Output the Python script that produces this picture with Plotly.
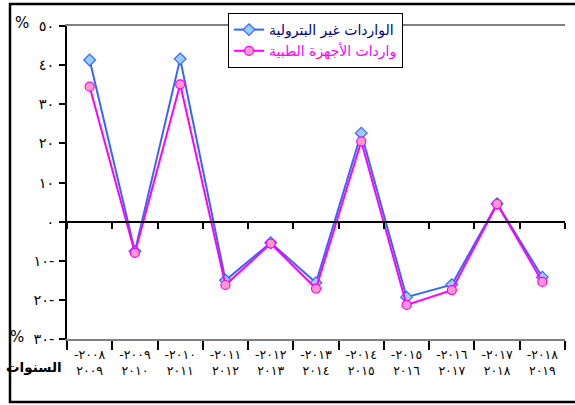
import plotly.graph_objects as go

categories = ["-٢٠٠٨<br>٢٠٠٩", "-٢٠٠٩<br>٢٠١٠", "-٢٠١٠<br>٢٠١١", "-٢٠١١<br>٢٠١٢",
              "-٢٠١٢<br>٢٠١٣", "-٢٠١٣<br>٢٠١٤", "-٢٠١٤<br>٢٠١٥", "-٢٠١٥<br>٢٠١٦",
              "-٢٠١٦<br>٢٠١٧", "-٢٠١٧<br>٢٠١٨", "-٢٠١٨<br>٢٠١٩"]
non_oil = [41.3, -7.6, 41.6, -15.0, -5.4, -15.6, 22.6, -19.3, -16.1, 4.6, -14.2]
medical = [34.5, -8.0, 35.1, -16.2, -5.6, -17.1, 20.5, -21.3, -17.5, 4.5, -15.4]
y_tickvals = [50, 40, 30, 20, 10, 0, -10, -20, -30]
y_ticktext = ["٥٠", "٤٠", "٣٠", "٢٠", "١٠", "٠", "١٠-", "٢٠-", "٣٠-"]
name1 = "الواردات غير البترولية"
name2 = "واردات الأجهزة الطبية"

# pixel layout helpers
W, H = 575, 405
PL, PR = 67, 565          # plot left/right
PT, PB = 26, 339          # plot top/bottom
MT = 13                   # paper top (legend top)
paper_h = PB - MT
dom_top = (PB - PT) / paper_h
pw, ph = PR - PL, PB - PT


def px_x(x):
    return (x - PL) / pw


def px_y(y):
    return (PB - y) / ph


fig = go.Figure()
fig.add_trace(go.Scatter(
    x=categories, y=non_oil, mode="lines+markers",
    name="<span style='color:#000080'>" + name1 + "</span>",
    line=dict(color="#3366FF", width=2),
    marker=dict(symbol="diamond", size=9, color="#99CCFF", line=dict(color="#3366FF", width=1.2)),
))
fig.add_trace(go.Scatter(
    x=categories, y=medical, mode="lines+markers",
    name="<span style='color:#FF00FF'>" + name2 + "</span>",
    line=dict(color="#FF00FF", width=2),
    marker=dict(symbol="circle", size=9, color="#FF99CC", line=dict(color="#FF00FF", width=1.2)),
))
# helper invisible trace for the zero-line axis
fig.add_trace(go.Scatter(x=categories, y=[None] * len(categories), xaxis="x2",
                         showlegend=False, hoverinfo="skip", mode="lines"))

fig.update_layout(
    width=W, height=H,
    margin=dict(l=PL, r=W - PR, t=MT, b=H - PB, autoexpand=False),
    paper_bgcolor="white", plot_bgcolor="white",
    font=dict(family="DejaVu Sans, Arial", color="black"),
    showlegend=True,
    legend=dict(
        x=px_x(228), y=1.0, xanchor="left", yanchor="top",
        bgcolor="white", bordercolor="black", borderwidth=1,
        font=dict(size=14, family="DejaVu Sans"),
        tracegroupgap=0, itemwidth=30,
    ),
    xaxis=dict(
        type="category", range=[-0.5, 10.5],
        showline=True, linecolor="#808080", linewidth=1.5, mirror=True,
        ticks="outside", tickson="boundaries", ticklen=9, tickcolor="black", tickwidth=1.5,
        showgrid=False, zeroline=False, ticklabelstandoff=3,
        tickfont=dict(size=12.5, family="DejaVu Sans"),
    ),
    xaxis2=dict(
        type="category", range=[-0.5, 10.5], overlaying="x", anchor="free",
        position=(30 / 80) * dom_top,
        showline=True, linecolor="black", linewidth=2,
        ticks="outside", tickson="boundaries", ticklen=6, tickcolor="black", tickwidth=1.5,
        showticklabels=False, showgrid=False, zeroline=False,
    ),
    yaxis=dict(
        domain=[0, dom_top],
        range=[-30, 50], tickvals=y_tickvals, ticktext=y_ticktext,
        showline=True, linecolor="black", linewidth=1.5,
        ticks="outside", ticklen=6, tickcolor="black", tickwidth=1.5,
        showgrid=False, zeroline=False, ticklabelstandoff=2,
        tickfont=dict(size=14.5, family="DejaVu Sans"),
    ),
)

fig.add_annotation(xref="x domain", yref="y domain", x=px_x(22), y=px_y(23),
                   xanchor="center", yanchor="middle",
                   text="%", showarrow=False, font=dict(size=15))
fig.add_annotation(xref="x domain", yref="y domain", x=px_x(17), y=px_y(337),
                   xanchor="center", yanchor="middle",
                   text="%", showarrow=False, font=dict(size=15))
fig.add_annotation(xref="x domain", yref="y domain", x=px_x(64), y=px_y(367),
                   xanchor="right", yanchor="middle",
                   text="<b>السنوات</b>", showarrow=False, font=dict(size=13.5))

# outer frame
fig.add_shape(type="rect", xref="x domain", yref="y domain",
              x0=px_x(10), x1=px_x(590), y0=px_y(402), y1=px_y(4),
              line=dict(color="black", width=2.5), fillcolor="rgba(0,0,0,0)", layer="below")

fig.write_html(
    "out.html",
    config={"displayModeBar": False},
    post_script="document.body.style.margin='0';document.body.style.overflow='hidden';",
)
